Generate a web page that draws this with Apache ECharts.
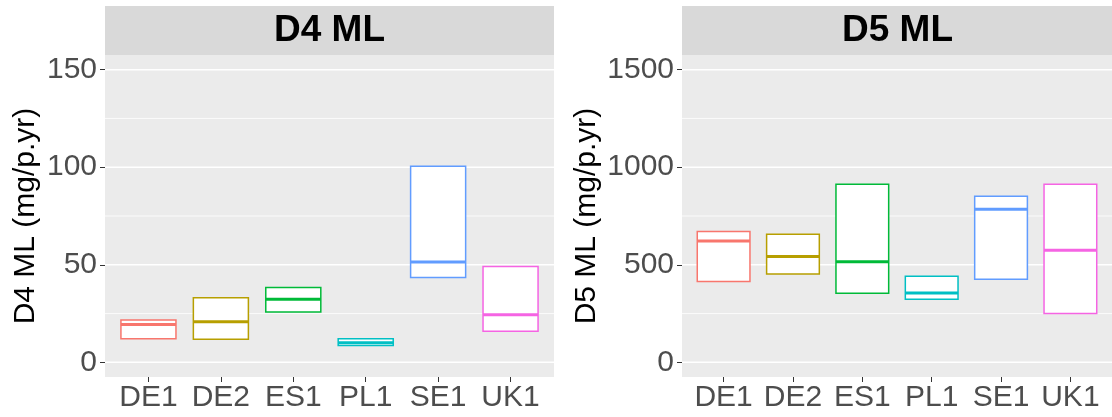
<!DOCTYPE html>
<html>
<head>
<meta charset="utf-8">
<script src="https://cdn.jsdelivr.net/npm/echarts@6/dist/echarts.min.js"></script>
<style>
  html, body { margin: 0; padding: 0; background: #ffffff; }
  #chart { width: 1112px; height: 417px; }
</style>
</head>
<body>
<div id="chart"></div>
<script>
// Sites shown on both panels
const categories = ['DE1', 'DE2', 'ES1', 'PL1', 'SE1', 'UK1'];

// D4 ML (mg/p.yr): lower edge, median, upper edge of each box
const d4Min    = [12.1, 11.9, 25.8, 8.7, 43.5, 16.0];
const d4Median = [19.4, 20.8, 32.4, 10.1, 51.4, 24.4];
const d4Max    = [21.7, 33.1, 38.4, 12.1, 100.5, 49.1];

// D5 ML (mg/p.yr): lower edge, median, upper edge of each box
const d5Min    = [415, 453, 354, 323, 426, 251];
const d5Median = [622, 542, 515, 356, 785, 574];
const d5Max    = [670, 656, 913, 441, 851, 913];

// Axis ticks and grid lines
const d4Ticks = [0, 50, 100, 150];
const d4Minor = [25, 75, 125];
const d5Ticks = [0, 500, 1000, 1500];
const d5Minor = [250, 750, 1250];

// Site colours (ggplot hue palette)
const siteColors = ['#F8766D', '#B79F00', '#00BA38', '#00BFC4', '#619CFF', '#F564E3'];

const FONT = "'Liberation Sans', Arial, sans-serif";
const catIdx = categories.map((_, i) => i);

function boxData(lo, med, hi) {
  return categories.map((c, i) => [i, lo[i], med[i], hi[i]]);
}

function renderBox(params, api) {
  const x = api.value(0);
  const lo = api.value(1), med = api.value(2), hi = api.value(3);
  const top = api.coord([x, hi]);
  const bot = api.coord([x, lo]);
  const mid = api.coord([x, med]);
  const w = api.size([0.76, 0])[0];
  const color = siteColors[params.dataIndex % siteColors.length];
  return {
    type: 'group',
    children: [
      {
        type: 'rect',
        shape: { x: top[0] - w / 2, y: top[1], width: w, height: bot[1] - top[1] },
        style: { fill: '#ffffff', stroke: color, lineWidth: 1.5 }
      },
      {
        type: 'line',
        shape: { x1: mid[0] - w / 2, y1: mid[1], x2: mid[0] + w / 2, y2: mid[1] },
        style: { stroke: color, lineWidth: 3 }
      }
    ]
  };
}

// Horizontal panel grid lines: [centre x, value, isMajor]
function gridLineSeries(idx, major, minor) {
  return {
    type: 'custom',
    xAxisIndex: idx,
    yAxisIndex: idx,
    silent: true,
    z: 1,
    emphasis: { disabled: true },
    encode: { x: 0, y: 1 },
    data: major.map(v => [2.5, v, 1]).concat(minor.map(v => [2.5, v, 0])),
    renderItem: (params, api) => {
      const cs = params.coordSys;
      const y = api.coord([2.5, api.value(1)])[1];
      const majorLine = api.value(2) === 1;
      return {
        type: 'line',
        silent: true,
        shape: { x1: cs.x, y1: y, x2: cs.x + cs.width, y2: y },
        style: { stroke: '#ffffff', lineWidth: majorLine ? 1.5 : 0.8 }
      };
    }
  };
}

function xAxisFor(idx) {
  return {
    type: 'value',
    gridIndex: idx,
    position: 'bottom',
    min: -0.6,
    max: 5.6,
    splitLine: { show: false },
    axisLine: { show: false, onZero: false },
    axisTick: { show: true, customValues: catIdx, length: 5, lineStyle: { color: '#333333', width: 1 } },
    axisLabel: {
      customValues: catIdx,
      formatter: v => categories[Math.round(v)],
      color: '#4D4D4D',
      fontSize: 30,
      fontFamily: FONT,
      margin: 6
    }
  };
}

function yAxisFor(idx, lo, hi, ticks, name, gap) {
  return {
    type: 'value',
    gridIndex: idx,
    position: 'left',
    min: lo,
    max: hi,
    name: name,
    nameLocation: 'middle',
    nameGap: gap,
    nameTextStyle: { color: '#000000', fontSize: 30, fontFamily: FONT },
    splitLine: { show: false },
    axisLine: { show: false, onZero: false },
    axisTick: { show: true, customValues: ticks, length: 5, lineStyle: { color: '#333333', width: 1 } },
    axisLabel: {
      customValues: ticks,
      formatter: v => String(v),
      color: '#4D4D4D',
      fontSize: 30,
      fontFamily: FONT,
      margin: 8
    }
  };
}

const chart = echarts.init(document.getElementById('chart'), null, { renderer: 'canvas' });

const panels = [
  { left: 105, width: 449, title: 'D4 ML' },
  { left: 682, width: 431, title: 'D5 ML' }
];

chart.setOption({
  animation: false,
  backgroundColor: '#ffffff',
  grid: panels.map(p => ({
    left: p.left, top: 55, width: p.width, height: 322,
    show: true, backgroundColor: '#EBEBEB', borderWidth: 0
  })),
  graphic: panels.map(p => ({
    type: 'group',
    silent: true,
    children: [
      { type: 'rect', shape: { x: p.left, y: 6, width: p.width, height: 49 }, style: { fill: '#D9D9D9' }, z: 0 },
      {
        type: 'text',
        x: p.left + p.width / 2, y: 31,
        style: {
          text: p.title, fill: '#000000', font: "bold 37px " + FONT,
          textAlign: 'center', textVerticalAlign: 'middle'
        },
        z: 1
      }
    ]
  })),
  xAxis: [xAxisFor(0), xAxisFor(1)],
  yAxis: [
    yAxisFor(0, -7.5, 157.5, d4Ticks, 'D4 ML (mg/p.yr)', 64),
    yAxisFor(1, -75, 1575, d5Ticks, 'D5 ML (mg/p.yr)', 80)
  ],
  series: [
    gridLineSeries(0, d4Ticks, d4Minor),
    gridLineSeries(1, d5Ticks, d5Minor),
    {
      type: 'custom', name: 'D4 ML', xAxisIndex: 0, yAxisIndex: 0, z: 3,
      renderItem: renderBox, encode: { x: 0, y: [1, 2, 3] },
      data: boxData(d4Min, d4Median, d4Max)
    },
    {
      type: 'custom', name: 'D5 ML', xAxisIndex: 1, yAxisIndex: 1, z: 3,
      renderItem: renderBox, encode: { x: 0, y: [1, 2, 3] },
      data: boxData(d5Min, d5Median, d5Max)
    }
  ]
});
</script>
</body>
</html>
